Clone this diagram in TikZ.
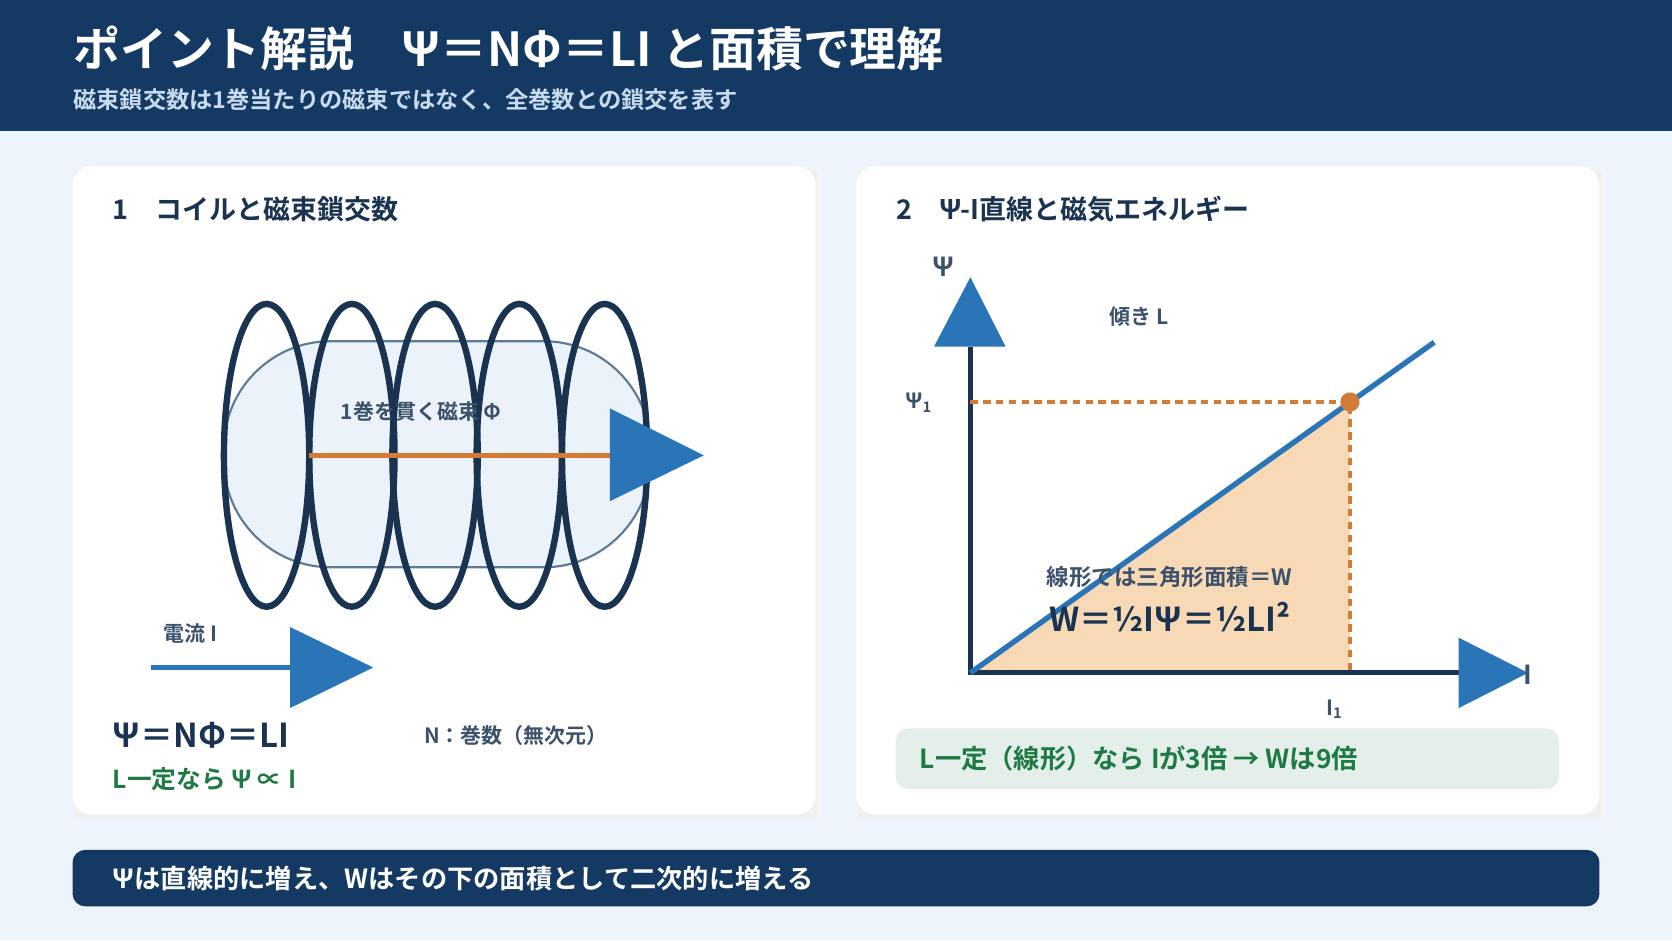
\documentclass[tikz,border=0pt]{standalone}
\usepackage{fontspec}
\setmainfont{Noto Sans CJK JP}[BoldFont={* Bold}]
\usetikzlibrary{positioning}
\definecolor{navy}{HTML}{143A63}
\definecolor{coilc}{HTML}{1A3350}
\definecolor{bgc}{HTML}{EEF4FB}
\definecolor{bluec}{HTML}{2A74B8}
\definecolor{orangec}{HTML}{D27B36}
\definecolor{greenc}{HTML}{1E7A45}
\definecolor{areac}{HTML}{F7D9B5}
\definecolor{subc}{HTML}{C8DAEE}
\newcommand{\fs}[1]{\fontsize{#1}{#1}\selectfont}
\tikzset{
  panel/.style={fill=white,rounded corners=0.18cm},
  lbl/.style={inner sep=0pt,font=\bfseries\fs{5.6pt},text=coilc!85},
  head/.style={inner sep=0pt,anchor=west,font=\bfseries\fs{7.2pt},text=coilc},
  tip/.style={fill=bluec},
  loop/.style={draw=coilc,line width=0.06cm},
}
\begin{document}
\begin{tikzpicture}[x=0.01cm,y=-0.01cm]
\useasboundingbox (0,0) rectangle (1568,882);
\fill[bgc] (0,0) rectangle (1568,882);
\fill[navy] (0,0) rectangle (1568,123);
\node[anchor=west,inner sep=0pt,text=white,font=\bfseries\fs{12.5pt}] (title) at (68,45) {ポイント解説　Ψ＝NΦ＝LI と面積で理解};
\node[anchor=west,inner sep=0pt,text=subc,font=\bfseries\fs{6.2pt}] (sub) at (68,93) {磁束鎖交数は1巻当たりの磁束ではなく、全巻数との鎖交を表す};

% panels
\fill[black!6] (70,160) rectangle (767,768);
\fill[panel] (68,156) rectangle (765,764);
\fill[black!6] (805,160) rectangle (1502,768);
\fill[panel] (803,156) rectangle (1500,764);
\node[head] (h1) at (105,196) {1　コイルと磁束鎖交数};
\node[head] (h2) at (840,196) {2　Ψ-I直線と磁気エネルギー};

% coil
\draw[fill=bluec!9,draw=bluec!40!gray,line width=0.02cm,rounded corners=1cm] (210,320) rectangle (610,532);
\foreach \x in {250,330,408,487,567}
  \draw[loop] (\x,427) ellipse (40 and 142);
\coordinate (f0) at (290,427);
\coordinate (f1) at (575,427);
\draw[orangec,line width=0.05cm] (f0) -- (f1);
\fill[tip] (572,383) -- (660,427) -- (572,470) -- cycle;
\node[lbl] (flux) at (395,386) {1巻を貫く磁束 Φ};

% current
\coordinate (c0) at (142,626);
\coordinate (c1) at (275,626);
\draw[bluec,line width=0.05cm] (c0) -- (c1);
\fill[tip] (272,588) -- (350,626) -- (272,664) -- cycle;
\node[lbl,anchor=west] (cur) at (153,594) {電流 I};

\node[anchor=west,inner sep=0pt,text=coilc,font=\bfseries\fs{8.8pt}] (eq1) at (105,690) {Ψ＝NΦ＝LI};
\node[anchor=west,inner sep=0pt,text=greenc,font=\bfseries\fs{6.6pt}] (prop) at (105,731) {L一定なら Ψ ∝ I};
\node[lbl,anchor=west] (nn) at (397,690) {N：巻数（無次元）};

% graph
\coordinate (o) at (910,631);
\coordinate (yt) at (910,325);
\coordinate (xt) at (1370,631);
\coordinate (p) at (1266,377);
\coordinate (pe) at (1345,321);
\coordinate (py) at (910,377);
\coordinate (px) at (1266,631);
\fill[areac] (o) -- (p) -- (px) -- cycle;
\draw[coilc,line width=0.045cm] (yt) -- (o) -- (xt);
\fill[tip] (876,325) -- (910,260) -- (943,325) -- cycle;
\fill[tip] (1368,598) -- (1433,631) -- (1368,664) -- cycle;
\draw[orangec,line width=0.03cm,dash pattern=on 0.07cm off 0.05cm] (py) -- (p) -- (px);
\draw[bluec,line width=0.05cm] (o) -- (pe);
\fill[orangec] (p) circle (9);
\node[lbl,font=\bfseries\fs{7pt}] (psi) at (885,250) {Ψ};
\node[lbl,font=\bfseries\fs{7pt},anchor=west] (ix) at (1428,633) {I};
\node[lbl] (psi1) at (862,378) {Ψ\textsubscript{1}};
\node[lbl] (i1) at (1252,665) {I\textsubscript{1}};
\node[lbl] (slope) at (1068,297) {傾き L};
\node[lbl,font=\bfseries\fs{6pt}] (tri) at (1097,541) {線形では三角形面積＝W};
\node[inner sep=0pt,text=coilc,font=\bfseries\fs{8.8pt}] (eq2) at (1097,579) {W＝½IΨ＝½LI²};

\fill[greenc!12,rounded corners=0.12cm] (840,683) rectangle (1462,740);
\node[anchor=west,inner sep=0pt,text=greenc,font=\bfseries\fs{7pt}] (note) at (862,711) {L一定（線形）なら Iが3倍 → Wは9倍};

% bottom band
\fill[navy,rounded corners=0.12cm] (68,797) rectangle (1500,850);
\node[anchor=west,inner sep=0pt,text=white,font=\bfseries\fs{7pt}] (sum) at (105,824) {Ψは直線的に増え、Wはその下の面積として二次的に増える};
\end{tikzpicture}
\end{document}
